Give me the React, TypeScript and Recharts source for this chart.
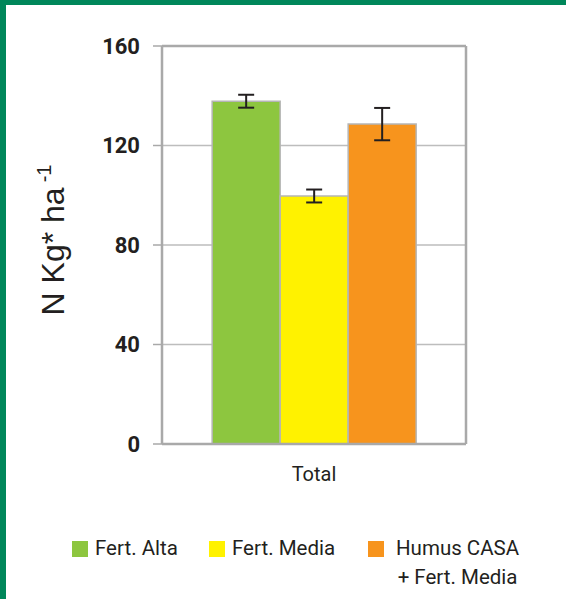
import React from 'react';
import {
  BarChart,
  Bar,
  XAxis,
  YAxis,
  CartesianGrid,
  ErrorBar,
  ReferenceLine,
} from 'recharts';

const categories = ['Total'];
const fertAlta = [137.8];
const fertAltaErr = [2.6];
const fertMedia = [99.7];
const fertMediaErr = [2.6];
const humusCasa = [128.6];
const humusCasaErr = [6.5];
const yTicks = [0, 40, 80, 120, 160];

const GREEN = '#8dc63f';
const YELLOW = '#fff200';
const ORANGE = '#f7941d';
const FRAME = '#00875a';
const TEXT = '#231f20';
const AXIS = '#a9a9a9';
const GRID = '#bdbdbd';
const BAR_STROKE = '#b5b5b5';

const data = categories.map((name, i) => ({
  name,
  alta: fertAlta[i],
  altaErr: fertAltaErr[i],
  media: fertMedia[i],
  mediaErr: fertMediaErr[i],
  humus: humusCasa[i],
  humusErr: humusCasaErr[i],
}));

function YLabel(props: any) {
  const vb = props.viewBox || {};
  const x = vb.x + 64;
  const y = vb.y + vb.height / 2 - 5;
  return (
    <text
      x={x}
      y={y}
      transform={`rotate(-90, ${x}, ${y})`}
      textAnchor="middle"
      fontFamily="'Liberation Sans', Arial, sans-serif"
      fontSize={32}
      fill={TEXT}
    >
      N Kg* ha
      <tspan fontSize={20} dy={-13} dx={5}>
        -1
      </tspan>
    </text>
  );
}

const legendItems = [
  { label: 'Fert. Alta', color: GREEN, left: 72 },
  { label: 'Fert. Media', color: YELLOW, left: 209 },
  { label: 'Humus CASA\n+ Fert. Media', color: ORANGE, left: 368 },
];

// right edge of the plot frame
const rightEdge = ({ offset }: any) => [offset.left + offset.width];

export default function App() {
  return (
    <div
      style={{
        position: 'absolute',
        left: 0,
        top: 0,
        width: 566,
        height: 599,
        background: '#fff',
        overflow: 'hidden',
      }}
    >
      <div style={{ position: 'absolute', left: 0, top: 0, width: 566, height: 5, background: FRAME }} />
      <div style={{ position: 'absolute', left: 0, top: 0, width: 6, height: 599, background: FRAME }} />
      <BarChart
        width={566}
        height={599}
        data={data}
        margin={{ top: 46, right: 100, left: 0, bottom: 125 }}
        barGap={0}
        barCategoryGap="16.5%"
      >
        <CartesianGrid stroke={GRID} strokeWidth={1.5} vertical={false} />
        <CartesianGrid
          stroke={AXIS}
          strokeWidth={2.5}
          horizontal={false}
          verticalCoordinatesGenerator={rightEdge}
        />
        <XAxis
          dataKey="name"
          height={30}
          tickLine={false}
          tickSize={0}
          tickMargin={23}
          axisLine={{ stroke: AXIS, strokeWidth: 2.5 }}
          tick={{ fontFamily: 'Roboto', fontSize: 20, fill: TEXT }}
        />
        <YAxis
          domain={[0, 160]}
          ticks={yTicks}
          width={162}
          tickSize={9}
          tickMargin={13}
          axisLine={{ stroke: AXIS, strokeWidth: 2.5 }}
          tickLine={{ stroke: AXIS, strokeWidth: 1.5 }}
          tick={{ fontFamily: 'Roboto', fontWeight: 700, fontSize: 22, fill: TEXT }}
          label={<YLabel />}
        />
        <ReferenceLine y={160} stroke={AXIS} strokeWidth={2.5} />
        <Bar dataKey="alta" fill={GREEN} stroke={BAR_STROKE} strokeWidth={1.5} isAnimationActive={false}>
          <ErrorBar dataKey="altaErr" stroke={TEXT} strokeWidth={2} width={8} />
        </Bar>
        <Bar dataKey="media" fill={YELLOW} stroke={BAR_STROKE} strokeWidth={1.5} isAnimationActive={false}>
          <ErrorBar dataKey="mediaErr" stroke={TEXT} strokeWidth={2} width={8} />
        </Bar>
        <Bar dataKey="humus" fill={ORANGE} stroke={BAR_STROKE} strokeWidth={1.5} isAnimationActive={false}>
          <ErrorBar dataKey="humusErr" stroke={TEXT} strokeWidth={2} width={8} />
        </Bar>
      </BarChart>
      {legendItems.map((item) => (
        <div
          key={item.label}
          style={{
            position: 'absolute',
            left: item.left,
            top: 541,
            display: 'flex',
            alignItems: 'flex-start',
            fontFamily: 'Roboto',
            fontSize: 20.5,
            color: TEXT,
          }}
        >
          <div style={{ width: 16, height: 16, background: item.color, marginRight: item.label.includes('\n') ? 12 : 7 }} />
          <div
            style={{
              whiteSpace: 'pre',
              textAlign: 'center',
              lineHeight: '29px',
              marginTop: -7,
            }}
          >
            {item.label}
          </div>
        </div>
      ))}
    </div>
  );
}
